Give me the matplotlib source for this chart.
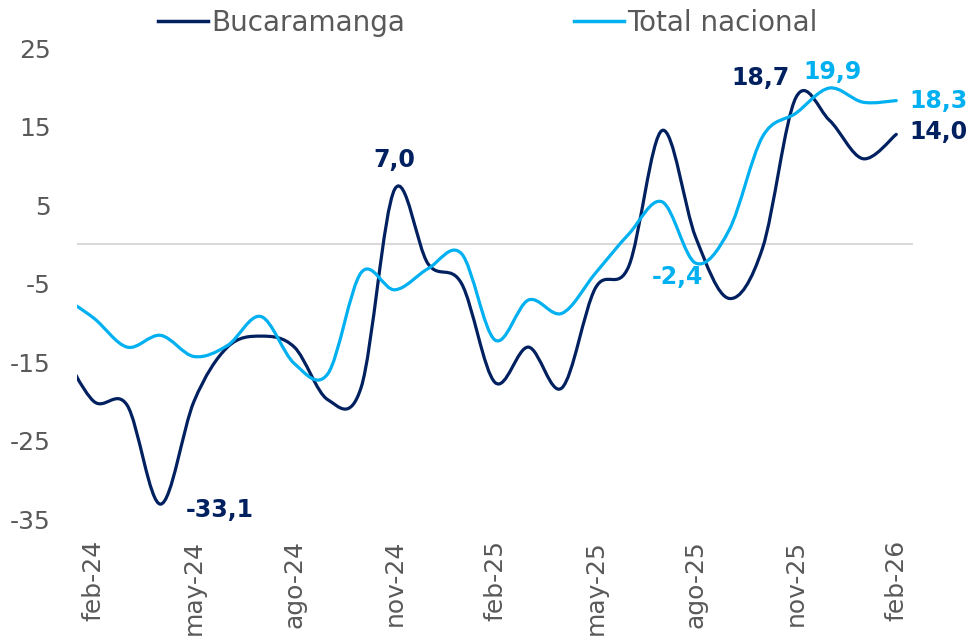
import matplotlib.pyplot as plt
from matplotlib.path import Path
from matplotlib.patches import PathPatch

NAVY = "#002060"
CYAN = "#00B0F0"
GRAY = "#595959"

# months: index -1 = ene-24 (only partly visible), 0 = feb-24 ... 24 = feb-26
months = list(range(-1, 25))
bucaramanga = [-13.0, -20.0, -20.5, -33.1, -20.0, -13.1, -11.7, -13.1, -19.8, -18.2,
               7.0, -2.5, -5.0, -17.6, -13.1, -18.3, -5.6, -2.8, 14.5, 0.9,
               -6.9, -0.5, 18.7, 15.8, 10.9, 14.0]
total_nacional = [-6.5, -9.4, -13.1, -11.6, -14.3, -12.9, -9.2, -15.2, -16.5, -3.6,
                  -5.8, -3.1, -1.2, -12.2, -7.1, -8.8, -3.7, 1.3, 5.4, -2.4,
                  1.8, 13.7, 16.7, 19.9, 18.1, 18.3]

tick_pos = [0, 3, 6, 9, 12, 15, 18, 21, 24]
tick_labels = ["feb-24", "may-24", "ago-24", "nov-24", "feb-25",
               "may-25", "ago-25", "nov-25", "feb-26"]

# (month index, text offset px, alignment)
buc_labels = [(2, (25, -6), "left"), (9, (0, 29), "center"),
              (21, (-6, 19), "right"), (24, (13, 2), "left")]
tot_labels = [(18, (-18, -14), "center"), (22, (3, 16), "center"),
              (24, (13, 0), "left")]

plt.rcParams["font.family"] = ["DejaVu Sans"]
plt.rcParams["axes.unicode_minus"] = False


def smooth_path(xs, ys):
    """Excel-like smoothed line as cubic Bezier segments through the points."""
    pts = list(zip(xs, ys))
    n = len(pts)
    verts = [pts[0]]
    codes = [Path.MOVETO]
    for i in range(n - 1):
        p0 = pts[i - 1] if i > 0 else pts[i]
        p1 = pts[i]
        p2 = pts[i + 1]
        p3 = pts[i + 2] if i + 2 < n else pts[i + 1]
        c1 = (p1[0] + (p2[0] - p0[0]) / 6, p1[1] + (p2[1] - p0[1]) / 6)
        c2 = (p2[0] - (p3[0] - p1[0]) / 6, p2[1] - (p3[1] - p1[1]) / 6)
        verts += [c1, c2, p2]
        codes += [Path.CURVE4] * 3
    return Path(verts, codes)


fig = plt.figure(figsize=(9.72, 6.4), dpi=100)
ax = fig.add_axes([0.0792, 0.189, 0.8601, 0.736])

ax.axhline(0, color="#D9D9D9", linewidth=1.5, zorder=1)

for vals, color, name in [(bucaramanga, NAVY, "Bucaramanga"),
                          (total_nacional, CYAN, "Total nacional")]:
    patch = PathPatch(smooth_path(months, vals), facecolor="none", edgecolor=color,
                      linewidth=2.3, capstyle="round", zorder=3)
    ax.add_patch(patch)
    ax.plot([], [], color=color, linewidth=2.5, label=name)

for labels, vals, color in [(buc_labels, bucaramanga, NAVY),
                            (tot_labels, total_nacional, CYAN)]:
    for idx, off, ha in labels:
        v = vals[months.index(idx)]
        ax.annotate(f"{v:.1f}".replace(".", ","), (idx, v), xytext=off,
                    textcoords="offset pixels", ha=ha, va="center",
                    color=color, fontsize=17, fontweight="bold", zorder=4)

ax.set_xlim(-0.5, 24.5)
ax.set_ylim(-35, 25)
ax.set_yticks(range(-35, 26, 10))
ax.set_xticks(tick_pos)
ax.set_xticklabels(tick_labels, rotation=90)
ax.tick_params(axis="both", length=0, labelsize=18, labelcolor=GRAY)
ax.tick_params(axis="x", pad=15)
ax.tick_params(axis="y", pad=19)
for s in ax.spines.values():
    s.set_visible(False)

fig.legend(loc="upper center", bbox_to_anchor=(0.502, 1.025), ncol=2, frameon=False,
           fontsize=20, labelcolor=GRAY, handlelength=1.8, handletextpad=0.1,
           columnspacing=6.1)

fig.savefig("out.png", dpi=100)
